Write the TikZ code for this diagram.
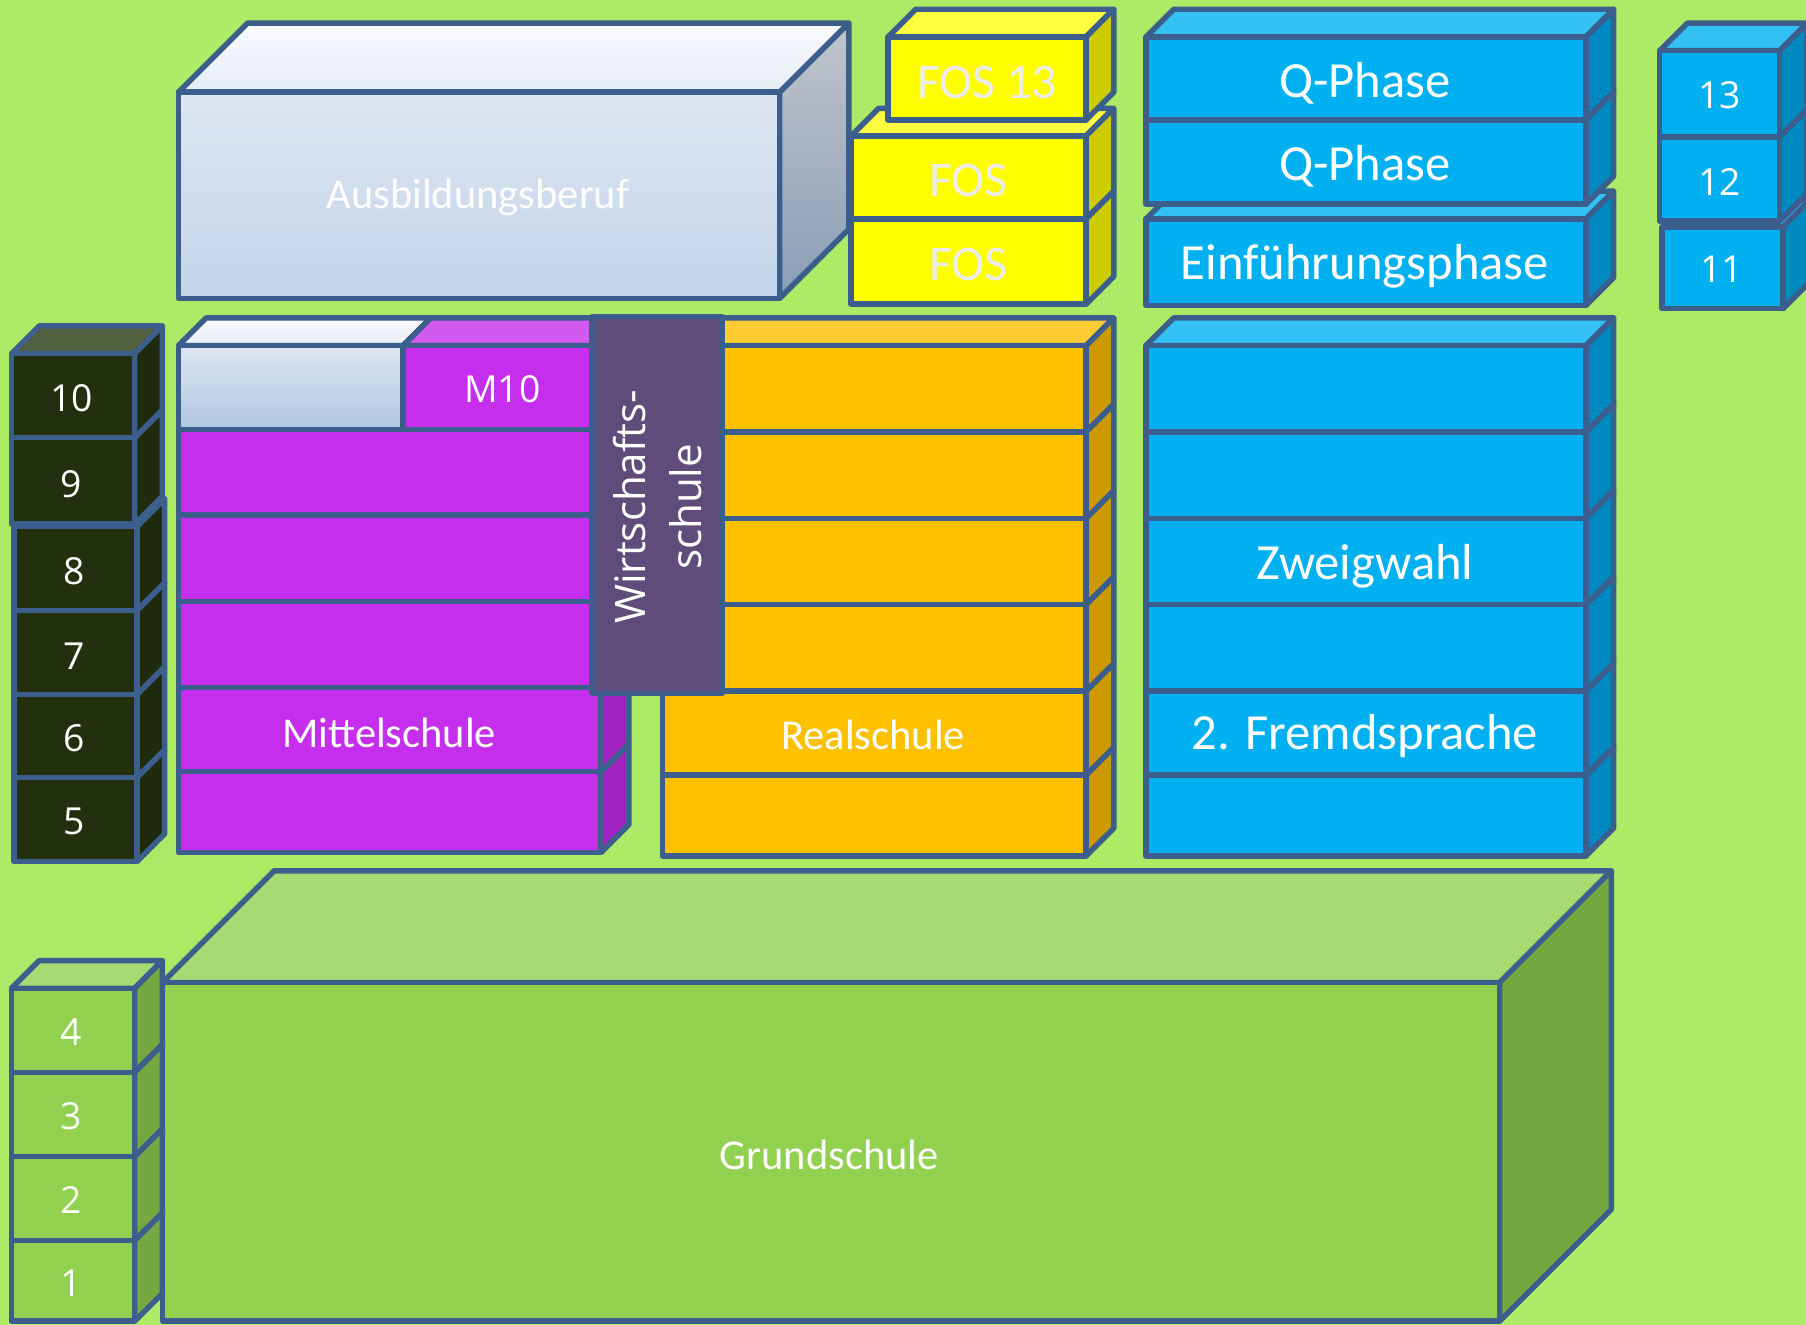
\documentclass[tikz,border=0pt]{standalone}
\usepackage{fontspec}
\setmainfont{Carlito}
\newfontfamily\segoe{Open Sans}
\definecolor{bg}{HTML}{ACEB66}
\definecolor{edge}{HTML}{3B5E8C}
\definecolor{ylfront}{HTML}{FFFF00}
\definecolor{yltop}{HTML}{FFFF40}
\definecolor{ylside}{HTML}{CCCC00}
\definecolor{blfront}{HTML}{00B0F0}
\definecolor{bltop}{HTML}{33C0F3}
\definecolor{blside}{HTML}{0088C0}
\definecolor{pufront}{HTML}{C42EEC}
\definecolor{putop}{HTML}{D25AF0}
\definecolor{puside}{HTML}{A021C0}
\definecolor{orfront}{HTML}{FFC000}
\definecolor{ortop}{HTML}{FFCC33}
\definecolor{orside}{HTML}{CC9A00}
\definecolor{wsfill}{HTML}{604C7B}
\definecolor{dkfront}{HTML}{233010}
\definecolor{dktop}{HTML}{505F3E}
\definecolor{dkside}{HTML}{1F2A0F}
\definecolor{grfront}{HTML}{92D050}
\definecolor{grtop}{HTML}{A8DA74}
\definecolor{grside}{HTML}{75A840}
\definecolor{auftop}{HTML}{DDE6F1}
\definecolor{aufmid}{HTML}{B1C7E2}
\definecolor{aufbot}{HTML}{C3D4EA}
\definecolor{austtop}{HTML}{F9FAFD}
\definecolor{austbot}{HTML}{E6EDF6}
\definecolor{aussup}{HTML}{C0C5CC}
\definecolor{aussdn}{HTML}{8A9DB6}
\tikzset{
  fy/.style={fill=ylfront}, ty/.style={fill=yltop}, sy/.style={fill=ylside},
  fb/.style={fill=blfront}, tb/.style={fill=bltop}, sb/.style={fill=blside},
  fp/.style={fill=pufront}, tp/.style={fill=putop}, sp/.style={fill=puside},
  fo/.style={fill=orfront}, to/.style={fill=ortop}, so/.style={fill=orside},
  fd/.style={fill=dkfront}, td/.style={fill=dktop}, sd/.style={fill=dkside},
  fg/.style={fill=grfront}, tg/.style={fill=grtop}, sg/.style={fill=grside},
  fa/.style={top color=auftop, middle color=aufmid, bottom color=aufbot},
  fs/.style={top color=auftop, bottom color=aufmid},
  ta/.style={top color=austtop, bottom color=austbot},
  sa/.style={top color=aussup, bottom color=aussdn},
  lbl/.style={text=white, inner sep=0pt, font=\fontsize{10.5}{12}\selectfont},
  big/.style={text=white, inner sep=0pt, font=\fontsize{12.5}{14}\selectfont},
  num/.style={text=white, inner sep=0pt, font=\segoe\fontsize{9.2}{11}\selectfont},
  fos/.style={text=white!93!black, inner sep=0pt, font=\fontsize{12.3}{14}\selectfont},
}
% front+side of one block: x1,y1,x2,y2,d,front style,side style
\newcommand{\blockrow}[7]{%
  \filldraw[draw=edge,#7] (#3,#2) -- ++(#5,-#5) -- ++(0,{#4-#2}) -- ++(-#5,#5) -- cycle;
  \filldraw[draw=edge,#6] (#1,#2) rectangle (#3,#4);}
% top face: x1,y1,x2,d,style
\newcommand{\blocktop}[5]{%
  \filldraw[draw=edge,#5] (#1,#2) -- ++(#4,-#4) -- ++({#3-#1},0) -- ++(-#4,#4) -- cycle;}
\begin{document}
\begin{tikzpicture}[x=0.01cm,y=-0.01cm,line width=1.35pt,line join=round]
\useasboundingbox (0,0) rectangle (1568,1150);
\clip (0,0) rectangle (1568,1150);
\fill[bg] (0,0) rectangle (1568,1150);

% Ausbildungsberuf
\blocktop{155}{80}{677}{60}{ta}
\blockrow{155}{80}{677}{259}{60}{fa}{sa}
\node[lbl] (aus) at (415,171) {Ausbildungsberuf};

% FOS stack
\blocktop{739}{118}{943}{24}{ty}
\blockrow{739}{118}{943}{190}{24}{fy}{sy}
\blockrow{739}{190}{943}{264}{24}{fy}{sy}
\blocktop{771}{32}{943}{24}{ty}
\blockrow{771}{32}{943}{104}{24}{fy}{sy}
\node[fos] (fos13) at (857,72) {FOS 13};
\node[fos] (fos12) at (841,157) {FOS};
\node[fos] (fos11) at (841,230) {FOS};

% Gymnasium upper
\blocktop{995}{190}{1377}{24}{tb}
\blockrow{995}{190}{1377}{265}{24}{fb}{sb}
\blocktop{995}{32}{1377}{24}{tb}
\blockrow{995}{32}{1377}{104}{24}{fb}{sb}
\blockrow{995}{104}{1377}{177}{24}{fb}{sb}
\node[big] (q2) at (1185,72) {Q-Phase};
\node[big] (q1) at (1185,144) {Q-Phase};
\node[big] (ef) at (1185,231) {Einführungsphase};

% grades 11-13
\blocktop{1443}{197}{1548}{24}{tb}
\blockrow{1443}{197}{1548}{268}{24}{fb}{sb}
\blocktop{1441}{44}{1545}{24}{tb}
\blockrow{1441}{44}{1545}{119}{24}{fb}{sb}
\blockrow{1441}{119}{1545}{192}{24}{fb}{sb}
\node[num] (g13) at (1493,83) {13};
\node[num] (g12) at (1493,158) {12};
\node[num] (g11) at (1495,234) {11};

% grades 5-10
\blocktop{12}{457}{119}{24}{td}
\blockrow{12}{457}{119}{530}{24}{fd}{sd}
\blockrow{12}{530}{119}{603}{24}{fd}{sd}
\blockrow{12}{603}{119}{675}{24}{fd}{sd}
\blockrow{12}{675}{119}{748}{24}{fd}{sd}
\blocktop{10}{307}{117}{24}{td}
\blockrow{10}{307}{117}{380}{24}{fd}{sd}
\blockrow{10}{380}{117}{455}{24}{fd}{sd}
\node[num] (g10) at (62,346) {10};
\node[num] (g9) at (62,420) {9};
\node[num] (g8) at (64,496) {8};
\node[num] (g7) at (64,570) {7};
\node[num] (g6) at (64,641) {6};
\node[num] (g5) at (64,713) {5};

% Mittelschule
\blockrow{155}{373}{522}{447}{24}{fp}{sp}
\blockrow{155}{447}{522}{522}{24}{fp}{sp}
\blockrow{155}{522}{522}{597}{24}{fp}{sp}
\blockrow{155}{597}{522}{670}{24}{fp}{sp}
\blockrow{155}{670}{522}{740}{24}{fp}{sp}
\blocktop{155}{300}{350}{24}{ta}
\blockrow{155}{300}{350}{373}{24}{fs}{sa}
\blocktop{350}{300}{522}{24}{tp}
\blockrow{350}{300}{522}{373}{24}{fp}{sp}
\node[num] (m10) at (436,338) {M10};
\node[lbl] (ms) at (338,636) {Mittelschule};

% Realschule
\blocktop{575}{300}{943}{24}{to}
\blockrow{575}{300}{943}{375}{24}{fo}{so}
\blockrow{575}{375}{943}{450}{24}{fo}{so}
\blockrow{575}{450}{943}{525}{24}{fo}{so}
\blockrow{575}{525}{943}{600}{24}{fo}{so}
\blockrow{575}{600}{943}{673}{24}{fo}{so}
\blockrow{575}{673}{943}{743}{24}{fo}{so}
\node[lbl] (rs) at (758,638) {Realschule};

% Wirtschaftsschule
\filldraw[draw=edge,fill=wsfill] (514,275) rectangle (627,602);
\node[text=white, inner sep=0pt, rotate=90, align=center,
  font=\segoe\fontsize{10.4}{13.8}\selectfont] (ws) at (571,440) {Wirtschafts-\\schule};

% Gymnasium lower
\blocktop{995}{300}{1377}{24}{tb}
\blockrow{995}{300}{1377}{375}{24}{fb}{sb}
\blockrow{995}{375}{1377}{450}{24}{fb}{sb}
\blockrow{995}{450}{1377}{525}{24}{fb}{sb}
\blockrow{995}{525}{1377}{600}{24}{fb}{sb}
\blockrow{995}{600}{1377}{673}{24}{fb}{sb}
\blockrow{995}{673}{1377}{743}{24}{fb}{sb}
\node[big] (zw) at (1185,492) {Zweigwahl};
\node[big] (fr) at (1185,639) {2. Fremdsprache};

% Grundschule
\blocktop{141}{853}{1302}{97}{tg}
\blockrow{141}{853}{1302}{1147}{97}{fg}{sg}
\node[lbl] (gs) at (720,1003) {Grundschule};

% grades 1-4
\blocktop{10}{858}{117}{24}{tg}
\blockrow{10}{858}{117}{931}{24}{fg}{sg}
\blockrow{10}{931}{117}{1004}{24}{fg}{sg}
\blockrow{10}{1004}{117}{1077}{24}{fg}{sg}
\blockrow{10}{1077}{117}{1147}{24}{fg}{sg}
\node[num] (g4) at (62,896) {4};
\node[num] (g3) at (62,969) {3};
\node[num] (g2) at (62,1042) {2};
\node[num] (g1) at (62,1114) {1};
\end{tikzpicture}
\end{document}
